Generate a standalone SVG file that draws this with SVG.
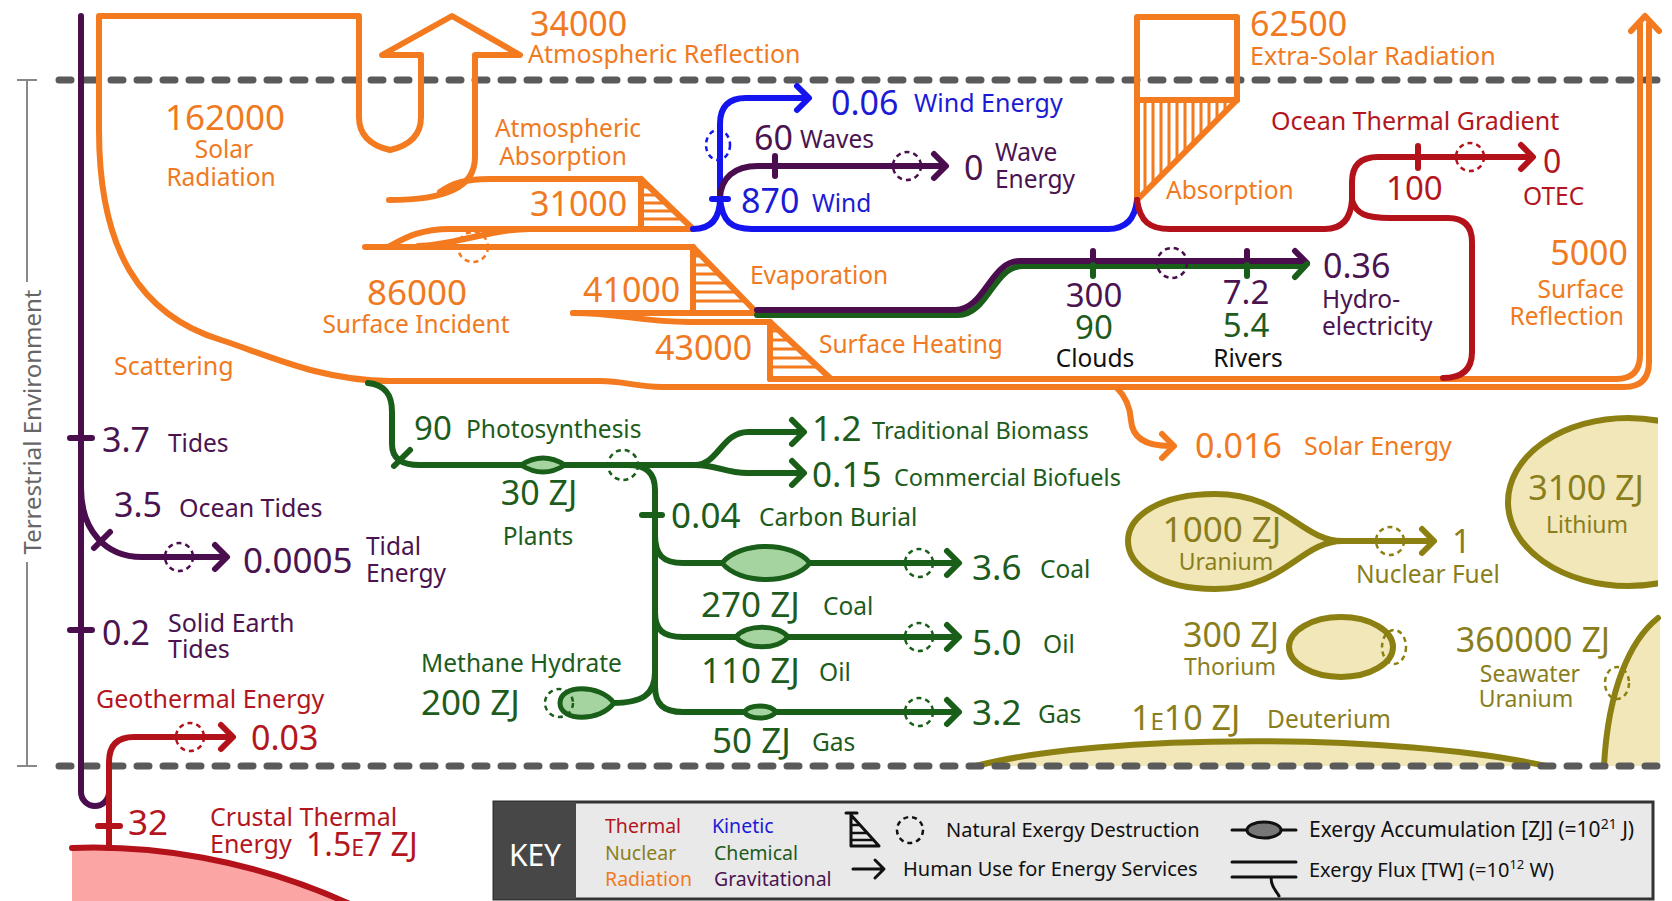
<svg xmlns="http://www.w3.org/2000/svg" width="1672" height="901" viewBox="0 0 1672 901">
<defs>
<style>
text{font-family:"Noto Sans","DejaVu Sans",sans-serif}
.o,.b,.p,.r,.g,.n,.k{fill:none;stroke-width:6;stroke-linecap:round;stroke-linejoin:round}
.o{stroke:#f47a20}.b{stroke:#1414ee}.p{stroke:#4a0d4d}.r{stroke:#b3121a}.g{stroke:#195e19}.n{stroke:#8c8012}.k{stroke:#111;stroke-width:3}
.h{stroke:#f47a20;stroke-width:3;fill:none}
.dc{fill:none;stroke-width:2.5;stroke-dasharray:5 4}
.to{fill:#f07a22}.tb{fill:#1b1bd6}.tp{fill:#4b1450}.tr{fill:#b3161e}.tg{fill:#1d5c1d}.tn{fill:#8a7e1c}.tk{fill:#111}
.big{font-size:34px}.lab{font-size:24.5px}.key{font-size:19.5px}
.lens{fill:#a6d4a0;stroke:#195e19;stroke-width:5}
.nuc{fill:#f1e7b8;stroke:#8c8012;stroke-width:6}
</style>
<clipPath id="clipR"><rect x="0" y="0" width="1658" height="901"/></clipPath>
</defs>
<rect width="1672" height="901" fill="#fff"/>

<!-- Nuclear reservoirs (under dashed line) -->
<g id="deuterium">
<path d="M976,766 C1100,733 1400,733 1546,766 Z" fill="#f1e7b8"/>
<path d="M976,766 C1100,733 1400,733 1546,766" class="n"/>
<text x="1131" y="730" class="tn" font-size="34">1<tspan font-size="24">E</tspan>10 ZJ</text>
<text x="1267" y="728" class="tn lab">Deuterium</text>
</g>
<g id="seawater-uranium">
<path d="M1658,618 C1630,640 1608,690 1604,766 L1660,766 L1660,618 Z" fill="#f1e7b8"/>
<path d="M1658,618 C1630,640 1608,690 1604,766" class="n"/>
<ellipse cx="1617" cy="683" rx="12" ry="16" class="dc" stroke="#8c8012"/>
<text x="1533" y="652" class="tn big" text-anchor="middle">360000 ZJ</text>
<text x="1530" y="682" class="tn" font-size="23" text-anchor="middle">Seawater</text>
<text x="1526" y="707" class="tn" font-size="23" text-anchor="middle">Uranium</text>
</g>
<g id="lithium">
<ellipse cx="1628" cy="502" rx="120" ry="84" class="nuc" clip-path="url(#clipR)"/>
<text x="1586" y="500" class="tn big" text-anchor="middle">3100 ZJ</text>
<text x="1587" y="533" class="tn" font-size="23" text-anchor="middle">Lithium</text>
</g>
<g id="thorium">
<ellipse cx="1341" cy="647" rx="52" ry="30" class="nuc"/>
<ellipse cx="1394" cy="647" rx="12" ry="17" class="dc" stroke="#8c8012"/>
<text x="1231" y="647" class="tn big" text-anchor="middle">300 ZJ</text>
<text x="1230" y="675" class="tn" font-size="23" text-anchor="middle">Thorium</text>
</g>
<g id="uranium">
<path d="M1343,541 C1300,541 1285,494 1215,494 C1160,494 1128,516 1128,541 C1128,566 1160,589 1215,589 C1285,589 1300,541 1343,541 Z" class="nuc"/>
<text x="1222" y="542" class="tn" font-size="35" text-anchor="middle">1000 ZJ</text>
<text x="1226" y="570" class="tn" font-size="23" text-anchor="middle">Uranium</text>
</g>

<!-- Boundaries -->
<g id="boundaries">
<path d="M59,80 H1662 M59,766 H1662" fill="none" stroke="#5a5a5a" stroke-width="7" stroke-dasharray="12 14" stroke-linecap="round"/>
<path d="M17,80 H37 M27,80 V282 M27,562 V766 M17,766 H37" fill="none" stroke="#888" stroke-width="2"/>
<text transform="translate(41,422) rotate(-90)" text-anchor="middle" font-size="24" fill="#666">Terrestrial Environment</text>
</g>

<g id="crust">
<path d="M72,848 C150,845 250,858 352,905 L72,905 Z" fill="#fba5a5"/>
<path d="M72,848 C150,845 250,858 352,905" class="r"/>
<text x="210" y="826" class="tr" font-size="25">Crustal Thermal</text>
<text x="210" y="853" class="tr" font-size="25">Energy</text>
<text x="306" y="856" class="tr" font-size="32">1.5<tspan font-size="23">E</tspan>7 ZJ</text>
</g>

<!-- Connectors / flows -->
<g id="connectors">
<!-- orange radiation -->
<path class="o" d="M390,381 C320,381 265,354 221,340 C140,315 99,250 99,130 V16 H359 V117 Q359,143 390,150 Q421,143 421,117 V55 H382 L452,16 L520,55 H475 V157 C475,188 445,200 389,200"/>
<path class="o" d="M440,192 C452,183 466,179 490,179 H641"/>
<path class="o" d="M641,179 V229 H693 Z"/>
<path class="h" d="M641,187 H649 M641,195 H657 M641,203 H666 M641,211 H674 M641,219 H682"/>
<path class="o" d="M390,246 C405,238 420,229 450,229 H693"/>
<path class="o" d="M365,247 H693"/>
<path class="o" d="M418,246 C450,246 490,229 530,229"/>
<circle cx="473" cy="247" r="15" class="dc" stroke="#f47a20"/>
<path class="o" d="M693,247 V313 L757,313 Z"/>
<path class="h" d="M693,256 H702 M693,265 H710 M693,274 H719 M693,283 H728 M693,292 H737 M693,301 H745"/>
<path class="o" d="M573,313 H757"/>
<path class="o" d="M573,313 C620,313 640,322 690,322 H770"/>
<path class="o" d="M770,322 V379 L831,379 Z"/>
<path class="h" d="M770,331 H780 M770,340 H789 M770,349 H799 M770,358 H808 M770,367 H818"/>
<path class="o" d="M380,381 H600 C625,381 635,387 662,387 H1624 Q1649,387 1649,362 V24"/>
<path class="o" d="M770,379 H1616 Q1640,379 1640,355 V24"/>
<path class="o" d="M1631,31 L1645,16 L1659,31"/>
<path class="o" d="M1117,388 C1125,396 1130,405 1131,420 C1132,437 1145,446 1170,446"/>
<path class="o" d="M1162,434 L1174,446 L1162,458"/>
<!-- extra-solar -->
<rect x="1137" y="17" width="100" height="83" class="o"/>
<path class="o" d="M1137,100 V200 L1237,100"/>
<path class="h" d="M1145,100 V192 M1153,100 V184 M1161,100 V176 M1169,100 V168 M1177,100 V160 M1185,100 V152 M1193,100 V144 M1201,100 V136 M1209,100 V128 M1217,100 V120 M1225,100 V112"/>
<!-- blue kinetic -->
<path class="b" d="M693,229 C710,229 720,220 720,198 V124 Q720,98 746,98 H806"/>
<path class="b" d="M797,86 L809,98 L797,110"/>
<path class="b" d="M720,198 C722,222 732,229 752,229 H1108 Q1134,229 1137,200"/>
<ellipse cx="718" cy="145" rx="12" ry="15" class="dc" stroke="#1414ee"/>
<!-- purple waves -->
<path class="p" d="M720,198 C721,178 734,166 758,166 H940"/>
<path class="p" d="M934,154 L946,166 L934,178"/>
<path class="p" stroke-width="5" d="M775,156 V176"/>
<circle cx="907" cy="166" r="14" class="dc" stroke="#4a0d4d"/>
<path class="b" d="M712,199 H728"/>
<!-- evaporation -->
<path class="g" stroke-width="5" d="M757,315 H958 C988,315 993,266 1023,266 H1302"/>
<path class="p" stroke-width="5" d="M757,310 H955 C985,310 990,261 1020,261 H1302"/>
<path class="p" d="M1295,251 L1307,263"/>
<path class="g" d="M1307,264 L1295,277"/>
<path class="p" stroke-width="6" d="M1093,251 V262 M1247,251 V262"/>
<path class="g" stroke-width="6" d="M1093,265 V276 M1247,265 V276"/>
<circle cx="1172" cy="263" r="15" class="dc" stroke="#4a0d4d"/>
<!-- red ocean thermal -->
<path class="r" d="M1137,200 C1140,222 1150,229 1170,229 H1325 Q1350,229 1352,200 V182 Q1352,157 1378,157 H1528"/>
<path class="r" d="M1521,145 L1533,157 L1521,169"/>
<path class="r" stroke-width="5" d="M1418,146 V168"/>
<circle cx="1470" cy="157" r="14" class="dc" stroke="#b3121a"/>
<path class="r" d="M1352,200 C1356,214 1366,218 1390,218 H1448 Q1472,218 1472,242 V352 Q1472,378 1443,378"/>
<!-- purple tides -->
<path class="p" d="M81,16 V792 A14,14 0 0 0 109,792 V786"/>
<path class="p" stroke-width="5" d="M70,438 H92 M70,630 H92"/>
<path class="p" d="M81,488 C81,530 105,557 142,557 H222"/>
<path class="p" d="M215,545 L227,557 L215,569"/>
<path class="p" stroke-width="5" d="M94,548 L110,532"/>
<circle cx="179" cy="557" r="14" class="dc" stroke="#4a0d4d"/>
<!-- red geothermal -->
<path class="r" d="M109,848 V762 Q109,737 134,737 H228"/>
<path class="r" d="M221,725 L233,737 L221,749"/>
<path class="r" stroke-width="5" d="M98,826 H120"/>
<circle cx="190" cy="737" r="14" class="dc" stroke="#b3121a"/>
<!-- green chemical -->
<path class="g" d="M368,383 C387,385 392,397 392,412 V444 C392,459 402,465 420,465 H700"/>
<path class="g" stroke-width="5" d="M394,466 L410,450"/>
<path class="g" d="M695,465 C718,465 722,432 748,432 H800"/>
<path class="g" d="M792,420 L804,432 L792,444"/>
<path class="g" d="M695,465 C718,465 724,473 748,473 H800"/>
<path class="g" d="M792,461 L804,473 L792,485"/>
<circle cx="623" cy="465" r="15" class="dc" stroke="#195e19"/>
<path class="g" d="M628,465 C646,465 655,473 655,490 V690"/>
<path class="g" stroke-width="5" d="M642,515 H662"/>
<path class="g" d="M655,535 C655,555 663,563 683,563 H955"/>
<path class="g" d="M947,551 L959,563 L947,575"/>
<path class="g" d="M655,612 C655,630 663,637 683,637 H955"/>
<path class="g" d="M947,625 L959,637 L947,649"/>
<path class="g" d="M655,686 C655,704 663,712 683,712 H955"/>
<path class="g" d="M947,700 L959,712 L947,724"/>
<path class="g" d="M655,672 C655,695 642,703 612,703"/>
<circle cx="919" cy="563" r="14" class="dc" stroke="#195e19"/>
<circle cx="919" cy="637" r="14" class="dc" stroke="#195e19"/>
<circle cx="919" cy="712" r="14" class="dc" stroke="#195e19"/>
<!-- nuclear fuel -->
<path class="n" d="M1343,541 H1430"/>
<path class="n" d="M1422,529 L1434,541 L1422,553"/>
<circle cx="1390" cy="541" r="14" class="dc" stroke="#8c8012"/>
</g>

<!-- Nodes -->
<g id="atmospheric-reflection">
<text x="530" y="36" class="to big">34000</text>
<text x="528" y="63" class="to" font-size="25">Atmospheric Reflection</text>
</g>
<g id="extra-solar-radiation">
<text x="1250" y="36" class="to big">62500</text>
<text x="1250" y="65" class="to" font-size="25">Extra-Solar Radiation</text>
<text x="1166" y="199" class="to lab">Absorption</text>
</g>
<g id="solar-radiation">
<text x="225" y="130" class="to" font-size="35" text-anchor="middle">162000</text>
<text x="224" y="158" class="to lab" text-anchor="middle">Solar</text>
<text x="221" y="186" class="to lab" text-anchor="middle">Radiation</text>
</g>
<g id="atmospheric-absorption">
<text x="568" y="137" class="to lab" text-anchor="middle">Atmospheric</text>
<text x="563" y="165" class="to lab" text-anchor="middle">Absorption</text>
<text x="530" y="216" class="to big">31000</text>
</g>
<g id="surface-incident">
<text x="417" y="305" class="to" font-size="35" text-anchor="middle">86000</text>
<text x="416" y="333" class="to lab" text-anchor="middle">Surface Incident</text>
</g>
<g id="scattering"><text x="114" y="375" class="to" font-size="25">Scattering</text></g>
<g id="evaporation">
<text x="583" y="302" class="to big">41000</text>
<text x="750" y="284" class="to lab">Evaporation</text>
</g>
<g id="surface-heating">
<text x="655" y="360" class="to big">43000</text>
<text x="819" y="353" class="to lab">Surface Heating</text>
</g>
<g id="surface-reflection">
<text x="1628" y="265" class="to big" text-anchor="end">5000</text>
<text x="1624" y="298" class="to lab" text-anchor="end">Surface</text>
<text x="1624" y="325" class="to lab" text-anchor="end">Reflection</text>
</g>
<g id="solar-energy">
<text x="1195" y="458" class="to big">0.016</text>
<text x="1304" y="455" class="to" font-size="25">Solar Energy</text>
</g>
<g id="wind">
<text x="741" y="213" class="tb big">870</text>
<text x="812" y="212" class="tb lab">Wind</text>
</g>
<g id="wind-energy">
<text x="831" y="115" class="tb big">0.06</text>
<text x="914" y="112" class="tb" font-size="25">Wind Energy</text>
</g>
<g id="waves">
<text x="754" y="150" class="tp big">60</text>
<text x="800" y="148" class="tp lab">Waves</text>
</g>
<g id="wave-energy">
<text x="964" y="180" class="tp big">0</text>
<text x="995" y="161" class="tp lab">Wave</text>
<text x="995" y="188" class="tp lab">Energy</text>
</g>
<g id="ocean-thermal-gradient">
<text x="1271" y="130" class="tr" font-size="25">Ocean Thermal Gradient</text>
<text x="1386" y="200" class="tr" font-size="33">100</text>
</g>
<g id="otec">
<text x="1543" y="173" class="tr" font-size="32">0</text>
<text x="1523" y="205" class="tr lab">OTEC</text>
</g>
<g id="clouds">
<text x="1094" y="307" class="tp" font-size="33" text-anchor="middle">300</text>
<text x="1094" y="339" class="tg" font-size="33" text-anchor="middle">90</text>
<text x="1095" y="367" class="tk lab" text-anchor="middle">Clouds</text>
</g>
<g id="rivers">
<text x="1246" y="304" class="tp" font-size="33" text-anchor="middle">7.2</text>
<text x="1246" y="337" class="tg" font-size="33" text-anchor="middle">5.4</text>
<text x="1248" y="367" class="tk lab" text-anchor="middle">Rivers</text>
</g>
<g id="hydroelectricity">
<text x="1323" y="278" class="tp big">0.36</text>
<text x="1322" y="308" class="tp lab">Hydro-</text>
<text x="1322" y="335" class="tp lab">electricity</text>
</g>
<g id="tides">
<text x="102" y="452" class="tp big">3.7</text>
<text x="168" y="452" class="tp lab">Tides</text>
</g>
<g id="ocean-tides">
<text x="114" y="517" class="tp big">3.5</text>
<text x="179" y="517" class="tp" font-size="25">Ocean Tides</text>
</g>
<g id="tidal-energy">
<text x="243" y="573" class="tp" font-size="35">0.0005</text>
<text x="366" y="555" class="tp lab">Tidal</text>
<text x="366" y="582" class="tp lab">Energy</text>
</g>
<g id="solid-earth-tides">
<text x="102" y="645" class="tp big">0.2</text>
<text x="168" y="632" class="tp" font-size="25">Solid Earth</text>
<text x="168" y="658" class="tp" font-size="25">Tides</text>
</g>
<g id="geothermal-energy">
<text x="96" y="708" class="tr" font-size="25">Geothermal Energy</text>
<text x="251" y="750" class="tr big">0.03</text>
</g>
<g id="crustal-flux"><text x="128" y="835" class="tr" font-size="35">32</text></g>
<g id="photosynthesis">
<text x="414" y="440" class="tg" font-size="33">90</text>
<text x="466" y="438" class="tg lab">Photosynthesis</text>
</g>
<g id="plants">
<path d="M521,465 Q543,451 565,465 Q543,479 521,465 Z" class="lens"/>
<text x="539" y="505" class="tg big" text-anchor="middle">30 ZJ</text>
<text x="538" y="545" class="tg lab" text-anchor="middle">Plants</text>
</g>
<g id="traditional-biomass">
<text x="812" y="441" class="tg" font-size="35">1.2</text>
<text x="872" y="439" class="tg" font-size="23.5">Traditional Biomass</text>
</g>
<g id="commercial-biofuels">
<text x="812" y="487" class="tg" font-size="35">0.15</text>
<text x="894" y="486" class="tg" font-size="23.5">Commercial Biofuels</text>
</g>
<g id="carbon-burial">
<text x="671" y="528" class="tg" font-size="35">0.04</text>
<text x="759" y="526" class="tg lab">Carbon Burial</text>
</g>
<g id="coal-reserve">
<path d="M722,563 C740,541 792,541 810,563 C792,585 740,585 722,563 Z" class="lens"/>
<text x="701" y="617" class="tg" font-size="35">270 ZJ</text>
<text x="823" y="615" class="tg lab">Coal</text>
</g>
<g id="oil-reserve">
<path d="M736,637 C746,624 778,624 788,637 C778,650 746,650 736,637 Z" class="lens"/>
<text x="701" y="683" class="tg" font-size="35">110 ZJ</text>
<text x="819" y="681" class="tg lab">Oil</text>
</g>
<g id="gas-reserve">
<path d="M744,712 C750,704 770,704 776,712 C770,720 750,720 744,712 Z" class="lens"/>
<text x="712" y="753" class="tg" font-size="35">50 ZJ</text>
<text x="812" y="751" class="tg lab">Gas</text>
</g>
<g id="methane-hydrate">
<path d="M614,703 C600,684 560,684 560,703 C560,722 600,722 614,703 Z" class="lens"/>
<circle cx="559" cy="703" r="14" class="dc" stroke="#195e19"/>
<text x="421" y="672" class="tg" font-size="24.5">Methane Hydrate</text>
<text x="421" y="715" class="tg" font-size="35">200 ZJ</text>
</g>
<g id="coal-use">
<text x="972" y="580" class="tg" font-size="35">3.6</text>
<text x="1040" y="578" class="tg lab">Coal</text>
</g>
<g id="oil-use">
<text x="972" y="655" class="tg" font-size="35">5.0</text>
<text x="1043" y="653" class="tg lab">Oil</text>
</g>
<g id="gas-use">
<text x="972" y="725" class="tg" font-size="35">3.2</text>
<text x="1038" y="723" class="tg lab">Gas</text>
</g>
<g id="nuclear-fuel">
<text x="1452" y="553" class="tn" font-size="33">1</text>
<text x="1356" y="583" class="tn lab">Nuclear Fuel</text>
</g>

<!-- Key -->
<g id="key">
<rect x="494" y="802" width="1159" height="97" fill="#e9e9e9" stroke="#333" stroke-width="3"/>
<rect x="494" y="802" width="82" height="97" fill="#474747"/>
<text x="535" y="866" font-size="30" fill="#fff" text-anchor="middle">KEY</text>
<text x="605" y="833" class="key tr">Thermal</text>
<text x="605" y="860" class="key tn">Nuclear</text>
<text x="605" y="886" class="key to">Radiation</text>
<text x="712" y="833" class="key tb">Kinetic</text>
<text x="714" y="860" class="key tg">Chemical</text>
<text x="714" y="886" class="key tp">Gravitational</text>
<path class="k" d="M851,815 V846 H879 Z M846,813 H857"/>
<path stroke="#111" stroke-width="2.5" d="M851,825 H860 M851,833 H867 M851,840 H873"/>
<circle cx="910" cy="830" r="13" class="dc" stroke="#111"/>
<text x="946" y="837" class="tk" font-size="20">Natural Exergy Destruction</text>
<path class="k" d="M853,869 H883 M875,860 L884,869 L875,878"/>
<text x="903" y="876" class="tk" font-size="20">Human Use for Energy Services</text>
<path class="k" d="M1232,830 H1296"/>
<ellipse cx="1264" cy="830" rx="17" ry="8" fill="#777" stroke="#111" stroke-width="3"/>
<text x="1309" y="837" class="tk" font-size="21">Exergy Accumulation [ZJ] (=10<tspan dy="-8" font-size="14">21</tspan><tspan dy="8"> J)</tspan></text>
<path class="k" d="M1232,862 H1296 M1232,877 H1296 M1271,877 C1271,888 1276,890 1279,896"/>
<text x="1309" y="877" class="tk" font-size="20">Exergy Flux [TW] (=10<tspan dy="-8" font-size="13">12</tspan><tspan dy="8"> W)</tspan></text>
</g>
</svg>
